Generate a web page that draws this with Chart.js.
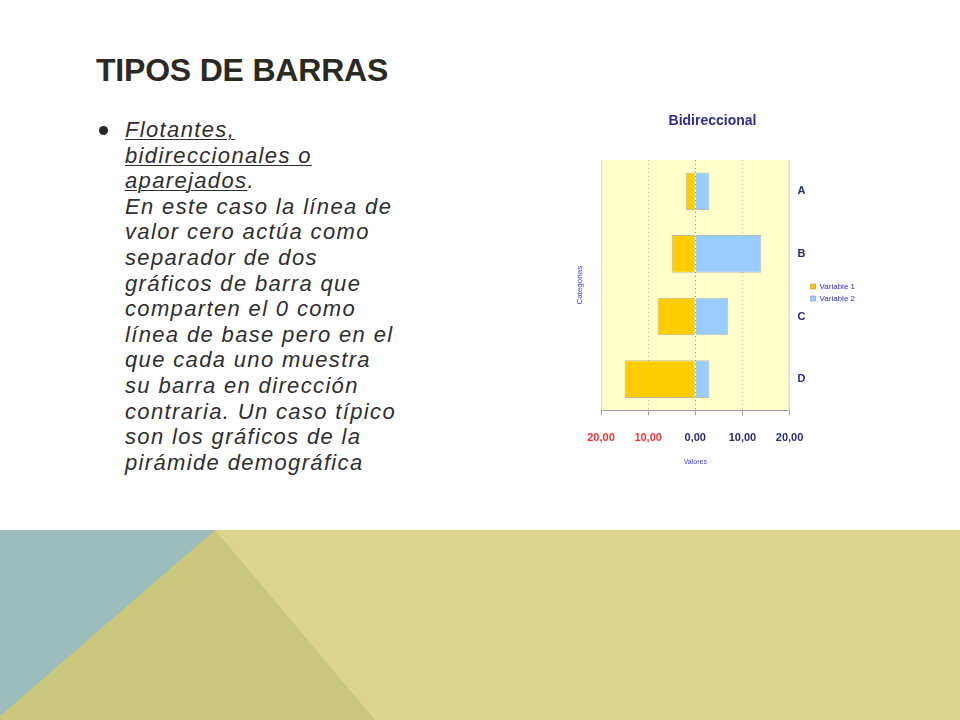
<!DOCTYPE html>
<html>
<head>
<meta charset="utf-8">
<script src="https://cdn.jsdelivr.net/npm/chart.js@4.4.1/dist/chart.umd.min.js"></script>
<style>
  html, body { margin: 0; padding: 0; }
  body { width: 960px; height: 720px; position: relative; overflow: hidden; background: #fff; }
  .deco { position: absolute; left: 0; top: 530px; width: 960px; height: 190px; }
  h1 {
    position: absolute; left: 96px; top: 52px; margin: 0;
    font-family: "Liberation Sans", Arial, sans-serif; font-weight: bold;
    font-size: 32px; color: #2b2a22; letter-spacing: -0.2px;
  }
  .bullet { position: absolute; left: 99px; top: 126px; width: 9px; height: 9px; border-radius: 50%; background: #262626; }
  .body {
    position: absolute; left: 125px; top: 117px; margin: 0;
    font-family: "Liberation Sans", Arial, sans-serif; font-style: italic;
    font-size: 22px; line-height: 25.6px; letter-spacing: 1.35px; color: #2e2e2e; white-space: nowrap;
  }
  .body u { text-decoration-thickness: 1px; text-underline-offset: 2px; }
  #wrap { position: absolute; left: 556px; top: 100px; width: 309px; height: 380px; }
</style>
</head>
<body>
<svg class="deco" viewBox="0 0 960 190" preserveAspectRatio="none">
  <rect x="0" y="0" width="960" height="190" fill="#dbd48a"/>
  <polygon points="0,0 215,0 375,190 0,190" fill="#c8c77c"/>
  <polygon points="0,0 215,0 0,186" fill="#9cbdbb"/>
</svg>

<h1>TIPOS DE BARRAS</h1>
<div class="bullet"></div>
<div class="body">
<u>Flotantes,</u><br>
<u>bidireccionales o</u><br>
<u>aparejados</u>.<br>
En este caso la línea de<br>
valor cero actúa como<br>
separador de dos<br>
gráficos de barra que<br>
comparten el 0 como<br>
línea de base pero en el<br>
que cada uno muestra<br>
su barra en dirección<br>
contraria. Un caso típico<br>
son los gráficos de la<br>
pirámide demográfica
</div>

<div id="wrap"><canvas id="chart"></canvas></div>

<script>
const categories = ['A', 'B', 'C', 'D'];
const variable1 = [-2, -5, -8, -15];   // drawn to the left of 0
const variable2 = [3, 14, 7, 3];
const xTickValues = [-20, -10, 0, 10, 20];
const seriesNames = ['Variable 1', 'Variable 2'];
const chartTitle = 'Bidireccional';

const chartFont = "'Liberation Sans', Arial, sans-serif";

// yellow plot background, frame, chart title and the rotated "Categorias" label
const plotDecor = {
    id: 'plotDecor',
    beforeDraw(chart) {
        const a = chart.chartArea;
        const ctx = chart.ctx;
        ctx.save();
        ctx.fillStyle = '#ffffcc';
        ctx.fillRect(a.left, a.top, a.right - a.left, a.bottom - a.top);
        ctx.restore();
    },
    afterDraw(chart) {
        const a = chart.chartArea;
        const ctx = chart.ctx;
        ctx.save();
        ctx.strokeStyle = '#dcdcc4';
        ctx.lineWidth = 1;
        ctx.beginPath();
        ctx.moveTo(a.left + 0.5, a.top);
        ctx.lineTo(a.left + 0.5, a.bottom);
        ctx.moveTo(a.right - 0.5, a.top);
        ctx.lineTo(a.right - 0.5, a.bottom);
        ctx.stroke();

        // title, centred over plot + labels + legend
        ctx.fillStyle = '#2e2e90';
        ctx.font = "bold 14px " + chartFont;
        ctx.textAlign = 'center';
        ctx.textBaseline = 'middle';
        ctx.fillText(chartTitle, chart.width / 2 + 2, 21);

        ctx.translate(24, (a.top + a.bottom) / 2);
        ctx.rotate(-Math.PI / 2);
        ctx.fillStyle = '#4040e0';
        ctx.font = "8px " + chartFont;
        ctx.fillText('Categorias', 0, 0);
        ctx.restore();
    }
};

function fmt(v) {
    return Math.abs(v).toFixed(2).replace('.', ',');
}

const ctx = document.getElementById('chart').getContext('2d');
new Chart(ctx, {
    type: 'bar',
    data: {
        labels: categories,
        datasets: [{
            label: seriesNames[0],
            data: variable1,
            backgroundColor: '#ffcc00',
            borderColor: 'rgba(150,130,90,0.55)',
            borderWidth: 1
        }, {
            label: seriesNames[1],
            data: variable2,
            backgroundColor: '#99ccff',
            borderColor: 'rgba(120,140,170,0.55)',
            borderWidth: 1
        }]
    },
    options: {
        indexAxis: 'y',
        responsive: true,
        maintainAspectRatio: false,
        animation: false,
        barPercentage: 0.6,
        categoryPercentage: 1,
        layout: { padding: { left: 45, top: 60, right: 0, bottom: 14 } },
        plugins: {
            title: { display: false },
            legend: {
                position: 'right',
                fullSize: false,
                // empty legend title only pushes the two items a bit lower
                title: { display: true, text: '', font: { size: 8 }, padding: { top: 0, bottom: 5 } },
                labels: {
                    color: '#3030d0',
                    font: { family: chartFont, size: 8 },
                    boxWidth: 5,
                    boxHeight: 5,
                    padding: 4
                }
            },
            tooltip: { enabled: false }
        },
        scales: {
            x: {
                stacked: true,
                min: -20,
                max: 20,
                afterBuildTicks(axis) {
                    axis.ticks = xTickValues.map(v => ({ value: v }));
                },
                ticks: {
                    callback: v => fmt(v),
                    color: c => (c.tick && c.tick.value < 0 ? '#ff3030' : '#2a2a78'),
                    font: { family: chartFont, size: 11, weight: 'bold' },
                    padding: 16
                },
                grid: {
                    color: c => (c.tick && c.tick.value === 0 ? '#8a8a8a' : '#c0c0a8'),
                    tickColor: '#a0a0a0',
                    tickLength: 5,
                    drawOnChartArea: true
                },
                border: { display: true, color: '#a0a0a0', dash: [1, 3] },
                title: {
                    display: true,
                    text: 'Valores',
                    color: '#4040e0',
                    font: { family: chartFont, size: 7 },
                    padding: { top: -3, bottom: 0 }
                }
            },
            y: {
                stacked: true,
                position: 'right',
                afterFit(scale) { scale.width = 17; },
                ticks: {
                    color: '#2a2a78',
                    font: { family: chartFont, size: 11, weight: 'bold' },
                    padding: 8
                },
                grid: { display: false, drawTicks: false },
                border: { display: false }
            }
        }
    },
    plugins: [plotDecor]
});
</script>
</body>
</html>
